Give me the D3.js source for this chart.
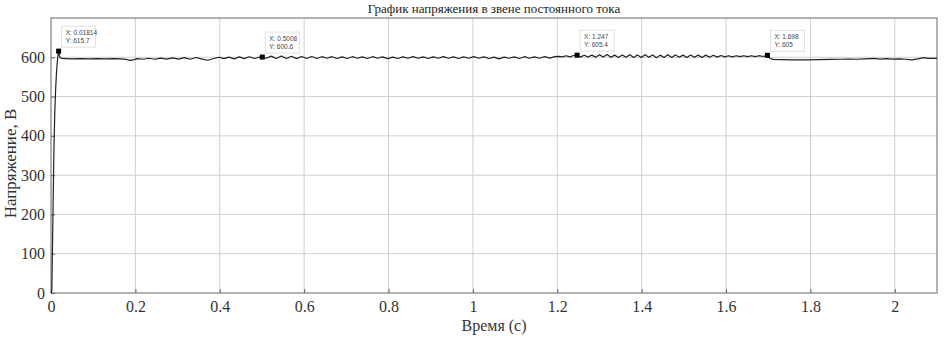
<!DOCTYPE html>
<html>
<head>
<meta charset="utf-8">
<script src="https://cdn.jsdelivr.net/npm/d3@7"></script>
<style>
  html, body { margin: 0; padding: 0; background: #fff; }
  svg { display: block; }
</style>
</head>
<body>
<svg id="chart" width="945" height="338"></svg>
<script>
// chart texts
const chartTitle = 'График напряжения в звене постоянного тока';
const xLabel = 'Время (с)';
const yLabel = 'Напряжение, В';

// tick values
const xTicks = [0, 0.2, 0.4, 0.6, 0.8, 1, 1.2, 1.4, 1.6, 1.8, 2];
const yTicks = [0, 100, 200, 300, 400, 500, 600];

// DC link voltage trace, [time s, voltage V]
const voltage = [
    [0, 0], [0.002, 5], [0.003, 80], [0.005, 230], [0.007, 370], [0.009, 460],
    [0.011, 520], [0.013, 560], [0.015, 590], [0.017, 608], [0.01814, 615.7],
    [0.02, 604], [0.022, 599], [0.026, 597], [0.035, 596.5], [0.05, 596],
    [0.07, 596.5], [0.09, 596], [0.11, 596.5], [0.13, 596], [0.15, 596.5],
    [0.165, 596], [0.178, 594.5], [0.188, 592], [0.197, 594], [0.205, 596.5],
    [0.218, 595], [0.232, 597.5], [0.246, 595], [0.26, 598], [0.274, 595.5],
    [0.288, 598.5], [0.302, 595.5], [0.316, 599], [0.33, 595], [0.344, 599.5],
    [0.358, 595.5], [0.372, 592.5], [0.386, 597], [0.398, 600], [0.41, 596.5],
    [0.422, 600.5], [0.434, 596], [0.446, 601], [0.458, 596.5], [0.47, 601.5],
    [0.482, 597], [0.493, 600], [0.5008, 600.6], [0.51, 597.5], [0.522, 603],
    [0.534, 597], [0.546, 603.5], [0.558, 597], [0.57, 602.5], [0.582, 596.5],
    [0.594, 602], [0.606, 597], [0.618, 602], [0.63, 597], [0.642, 601.5],
    [0.654, 597.5], [0.666, 601.5], [0.678, 597], [0.69, 601], [0.702, 597],
    [0.714, 601.5], [0.726, 597.5], [0.738, 601], [0.75, 597], [0.762, 601.5],
    [0.774, 597.5], [0.786, 601], [0.798, 596.5], [0.81, 600.5], [0.822, 597],
    [0.834, 601], [0.846, 597.5], [0.858, 601.5], [0.87, 597.5], [0.882, 601],
    [0.894, 597], [0.906, 601], [0.918, 597.5], [0.93, 601.5], [0.942, 597.5],
    [0.954, 601], [0.966, 597], [0.978, 601], [0.99, 597.5], [1.002, 601.5],
    [1.014, 597.5], [1.026, 601], [1.038, 597], [1.05, 600.5], [1.062, 596],
    [1.074, 600.5], [1.086, 597.5], [1.098, 601], [1.11, 597], [1.122, 601.5],
    [1.134, 597.5], [1.146, 601], [1.158, 597.5], [1.17, 601.5], [1.182, 598],
    [1.194, 601.5], [1.203, 602.5], [1.212, 601], [1.221, 604], [1.23, 601],
    [1.239, 604.5], [1.247, 605.4], [1.255, 600.5], [1.264, 605], [1.273, 600.5],
    [1.282, 605.5], [1.291, 600], [1.3, 606.5], [1.309, 600.5], [1.318, 607],
    [1.327, 600], [1.336, 605.5], [1.345, 599.5], [1.354, 606], [1.363, 600],
    [1.372, 606.5], [1.381, 599.5], [1.39, 606], [1.399, 599.5], [1.408, 606.5],
    [1.417, 600], [1.426, 606], [1.435, 599], [1.444, 605.5], [1.453, 599.5],
    [1.462, 606.5], [1.471, 599.5], [1.48, 606], [1.489, 600], [1.498, 605.5],
    [1.507, 599.5], [1.516, 606], [1.525, 600], [1.534, 605.5], [1.543, 599.5],
    [1.552, 605.5], [1.561, 600], [1.57, 605], [1.579, 600.5], [1.588, 604.5],
    [1.597, 601], [1.606, 604], [1.615, 601], [1.624, 604], [1.633, 601.5],
    [1.642, 604], [1.651, 601.5], [1.66, 604], [1.669, 601.5], [1.678, 604],
    [1.688, 602], [1.698, 605], [1.704, 597], [1.712, 594.5], [1.73, 594],
    [1.76, 593.5], [1.79, 593.5], [1.82, 594], [1.85, 594.5], [1.87, 595],
    [1.89, 595.5], [1.91, 595], [1.93, 596], [1.95, 597], [1.965, 595.5],
    [1.98, 596.5], [1.995, 595.5], [2.01, 596], [2.025, 595], [2.04, 593.5],
    [2.055, 596], [2.068, 599], [2.08, 597], [2.1, 597]
];

// data tips (MATLAB style)
const dataTips = [
    { x: 0.01814, y: 615.7, lines: ['X: 0.01814', 'Y: 615.7'] },
    { x: 0.5008, y: 600.6, lines: ['X: 0.5008', 'Y: 600.6'] },
    { x: 1.247, y: 605.4, lines: ['X: 1.247', 'Y: 605.4'] },
    { x: 1.698, y: 605, lines: ['X: 1.698', 'Y: 605'] }
];

const serif = '"Liberation Serif", "Times New Roman", serif';

const width = 945;
const height = 338;
const margin = { top: 18, right: 8, bottom: 45, left: 51 };
const innerW = width - margin.left - margin.right;
const innerH = height - margin.top - margin.bottom;

const svg = d3.select('#chart');
const g = svg.append('g')
    .attr('transform', `translate(${margin.left},${margin.top})`);

const xScale = d3.scaleLinear().domain([0, 2.1]).range([0, innerW]);
const yScale = d3.scaleLinear().domain([0, 700]).range([innerH, 0]);

// grid
g.append('g')
    .selectAll('line')
    .data(xTicks.filter(d => d > 0))
    .enter()
    .append('line')
    .attr('x1', d => xScale(d)).attr('x2', d => xScale(d))
    .attr('y1', 0).attr('y2', innerH)
    .attr('stroke', '#cfcfcf')
    .attr('stroke-width', 1);

g.append('g')
    .selectAll('line')
    .data(yTicks.filter(d => d > 0))
    .enter()
    .append('line')
    .attr('x1', 0).attr('x2', innerW)
    .attr('y1', d => yScale(d)).attr('y2', d => yScale(d))
    .attr('stroke', '#cfcfcf')
    .attr('stroke-width', 1);

// axes, ticks pointing inward
const xAxis = g.append('g')
    .attr('transform', `translate(0,${innerH})`)
    .call(d3.axisBottom(xScale).tickValues(xTicks).tickSize(-4).tickPadding(8)
        .tickFormat(d => d3.format('~g')(d)));

const yAxis = g.append('g')
    .call(d3.axisLeft(yScale).tickValues(yTicks).tickSize(-4).tickPadding(6));

[xAxis, yAxis].forEach(ax => {
    ax.attr('font-family', null).attr('font-size', null);
    ax.select('.domain').remove();
    ax.selectAll('.tick line').attr('stroke', '#666');
    ax.selectAll('.tick text')
        .style('font-family', serif)
        .style('font-size', '16px')
        .attr('fill', '#333');
});
xAxis.selectAll('.tick text').attr('dy', '0.71em');
yAxis.selectAll('.tick text').attr('dy', '0.32em');

// box around the plot
g.append('rect')
    .attr('x', 0).attr('y', 0)
    .attr('width', innerW).attr('height', innerH)
    .attr('fill', 'none')
    .attr('stroke', '#666')
    .attr('stroke-width', 1);

// voltage trace
const line = d3.line()
    .x(d => xScale(d[0]))
    .y(d => yScale(d[1]));

g.append('path')
    .datum(voltage)
    .attr('d', line)
    .attr('fill', 'none')
    .attr('stroke', '#222')
    .attr('stroke-width', 1.2)
    .attr('stroke-linejoin', 'round');

// data tips
dataTips.forEach(tip => {
    const mx = xScale(tip.x);
    const my = yScale(tip.y);
    const tg = g.append('g');
    tg.append('rect')
        .attr('x', mx + 3).attr('y', my - 25)
        .attr('width', 34).attr('height', 21)
        .attr('fill', '#fff')
        .attr('fill-opacity', 0.85)
        .attr('stroke', '#d8d8d8')
        .attr('stroke-width', 0.8);
    tip.lines.forEach((t, i) => {
        tg.append('text')
            .attr('x', mx + 7)
            .attr('y', my - 16 + i * 8)
            .style('font-family', '"Liberation Sans", Arial, sans-serif')
            .style('font-size', '6.5px')
            .attr('fill', '#444')
            .text(t);
    });
    tg.append('rect')
        .attr('x', mx - 2.5).attr('y', my - 2.5)
        .attr('width', 5).attr('height', 5)
        .attr('fill', '#000');
});

// texts
svg.append('text')
    .attr('x', margin.left + innerW / 2)
    .attr('y', 13)
    .attr('text-anchor', 'middle')
    .style('font-family', serif)
    .style('font-size', '13px')
    .attr('fill', '#222')
    .text(chartTitle);

svg.append('text')
    .attr('x', margin.left + innerW / 2)
    .attr('y', 331)
    .attr('text-anchor', 'middle')
    .style('font-family', serif)
    .style('font-size', '16px')
    .attr('fill', '#333')
    .text(xLabel);

svg.append('text')
    .attr('transform', `translate(16,${margin.top + innerH / 2 + 8}) rotate(-90)`)
    .attr('text-anchor', 'middle')
    .style('font-family', serif)
    .style('font-size', '17px')
    .attr('fill', '#333')
    .text(yLabel);
</script>
</body>
</html>
